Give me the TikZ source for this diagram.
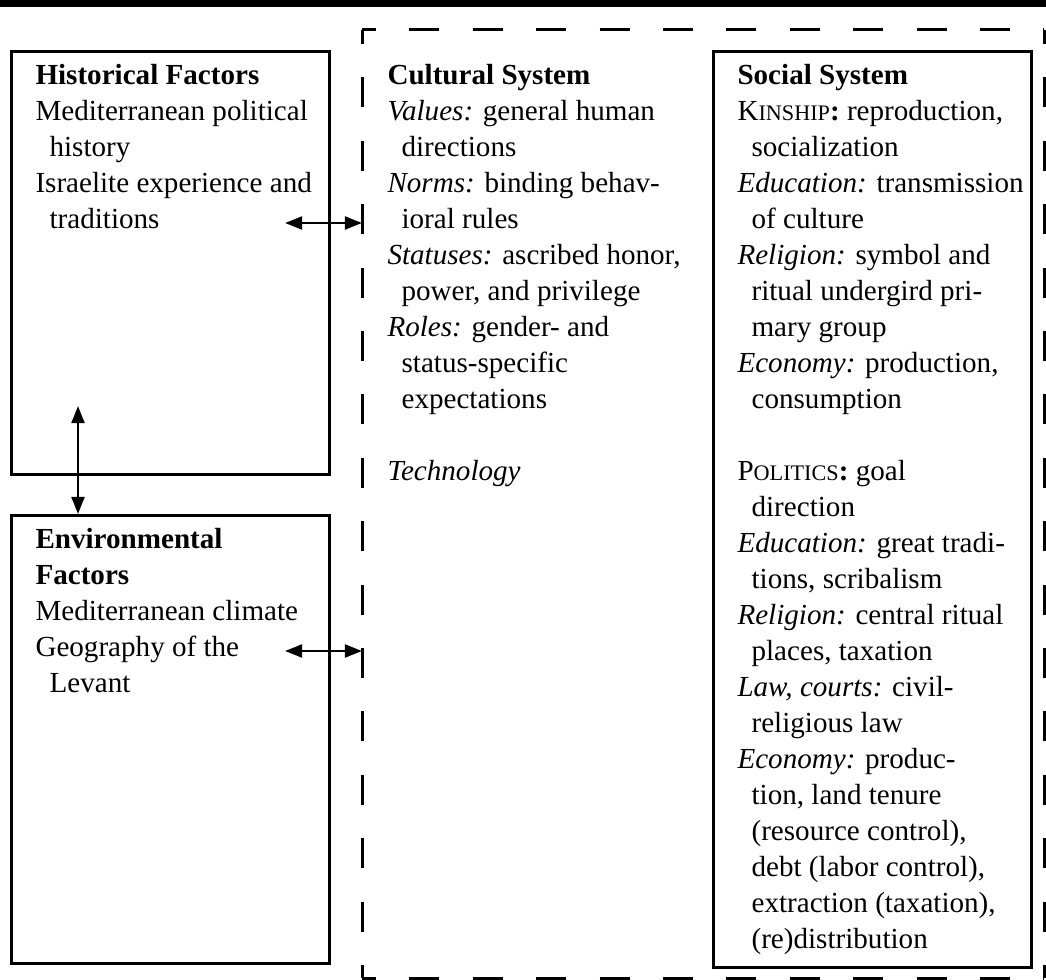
\documentclass[tikz,border=0pt]{standalone}
\usepackage{fontspec}
\setmainfont{Liberation Serif}
\usetikzlibrary{arrows.meta,positioning}

\newcommand{\diagfont}{\fontsize{9.7}{12}\selectfont}
\newcommand{\ind}{\hspace*{4.7pt}}
\newcommand{\fakesc}[2]{#1{\fontsize{7.4}{12}\selectfont #2}}
\newcommand{\term}[1]{{\itshape #1:}}

\begin{document}
\begin{tikzpicture}[
    x=0.3333pt, y=-0.3333pt,
    box/.style={draw, line width=1pt, anchor=north west, inner sep=0pt, minimum width=106pt},
    txt/.style={anchor=north west, align=left, inner sep=0pt, font=\diagfont},
    dashline/.style={line width=1pt, dash pattern=on 10pt off 11.13pt, dash phase=5.33pt},
    dbl/.style={{Triangle[length=5.7pt,width=4.3pt]}-{Triangle[length=5.7pt,width=4.3pt]}, line width=0.8pt}
]
\useasboundingbox (0,0) rectangle (1046,980);

% rule across the top
\draw[line width=2.3pt] (0,3.5) -- (1046,3.5);

% outer boxes
\node[box, minimum height=141pt] (hist) at (10,50) {};
\node[box, minimum height=149.3pt] (env) at (10,514) {};
\node[box, minimum height=305.3pt] (soc) at (712,50) {};
\node[anchor=north west, inner sep=0pt, outer sep=0pt, minimum width=227.33pt, minimum height=316pt] (cult) at (362,30) {};

% dashed frame, each side from its corner
\draw[dashline] (cult.north west) -- (cult.north east);
\draw[dashline] (cult.north west) -- (cult.south west);
\draw[dashline] (cult.north east) -- (cult.south east);
\draw[dashline] (cult.south west) -- (cult.south east);

% texts
\node[txt, below right=4.5pt and 8.3pt of hist.north west] (histtxt) {\textbf{Historical Factors}\\
Mediterranean political\\
\ind history\\
Israelite experience and\\
\ind traditions};

\node[txt, below right=4.5pt and 8.3pt of env.north west] (envtxt) {\textbf{Environmental}\\
\textbf{Factors}\\
Mediterranean climate\\
Geography of the\\
\ind Levant};

\node[txt, anchor=north west, xshift=8.3pt] (culttxt) at (cult.west |- histtxt.north) {\textbf{Cultural System}\\
\term{Values} general human\\
\ind directions\\
\term{Norms} binding behav-\\
\ind ioral rules\\
\term{Statuses} ascribed honor,\\
\ind power, and privilege\\
\term{Roles} gender- and\\
\ind status-specific\\
\ind expectations\\[12pt]
\textit{Technology}};

\node[txt, below right=4.5pt and 8.3pt of soc.north west] (soctxt) {\textbf{Social System}\\
\fakesc{K}{INSHIP}\textbf{:} reproduction,\\
\ind socialization\\
\term{Education} transmission\\
\ind of culture\\
\term{Religion} symbol and\\
\ind ritual undergird pri-\\
\ind mary group\\
\term{Economy} production,\\
\ind consumption\\[12pt]
\fakesc{P}{OLITICS}\textbf{:} goal\\
\ind direction\\
\term{Education} great tradi-\\
\ind tions, scribalism\\
\term{Religion} central ritual\\
\ind places, taxation\\
\term{Law, courts} civil-\\
\ind religious law\\
\term{Economy} produc-\\
\ind tion, land tenure\\
\ind (resource control),\\
\ind debt (labor control),\\
\ind extraction (taxation),\\
\ind (re)distribution};

% arrows
\coordinate (histend) at (285,223);
\coordinate (envend) at (285,651);
\coordinate (vtop) at (78,406);
\draw[dbl] (histend) -- (histend -| cult.west);
\draw[dbl] (envend) -- (envend -| cult.west);
\draw[dbl] (vtop) -- (vtop |- env.north);

\end{tikzpicture}
\end{document}
